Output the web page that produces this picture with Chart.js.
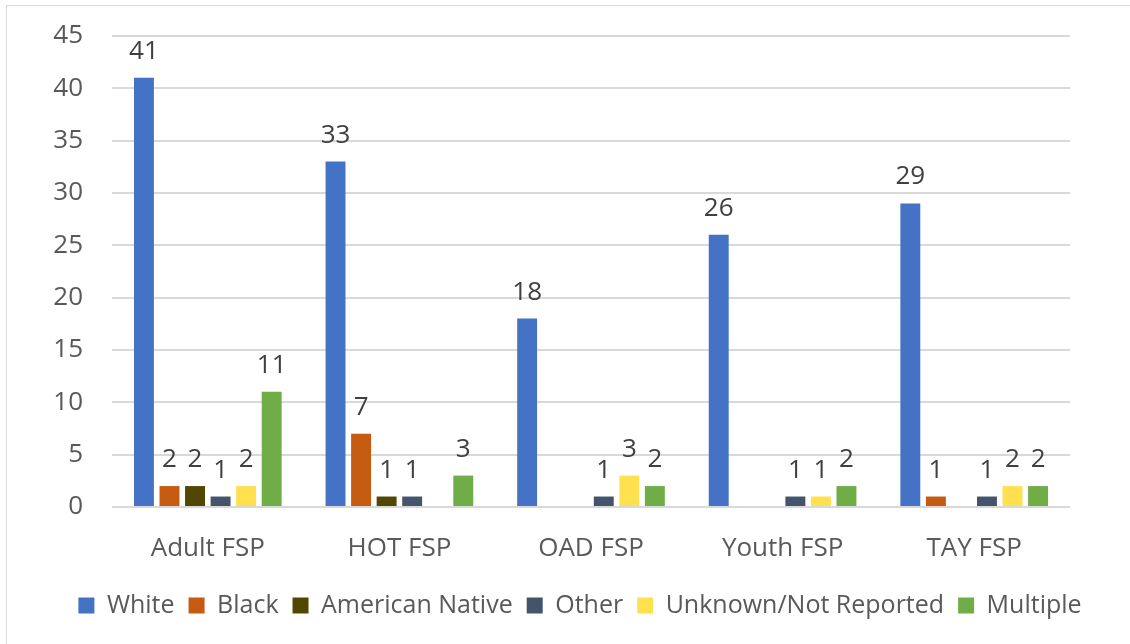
<!DOCTYPE html>
<html>
<head>
<meta charset="utf-8">
<script src="https://cdn.jsdelivr.net/npm/chart.js@4"></script>
<style>
  html, body { margin: 0; padding: 0; background: #ffffff; }
  #wrap { position: relative; width: 1130px; height: 644px; overflow: hidden; }
  #frame { position: absolute; left: 6px; top: 5px; width: 1200px; height: 700px;
           border-top: 1px solid #d9d9d9; border-left: 1px solid #d9d9d9; pointer-events: none; }
  canvas { position: absolute; left: 0; top: 0; }
</style>
</head>
<body>
<div id="wrap">
  <canvas id="chart" width="1130" height="644"></canvas>
  <div id="frame"></div>
</div>
<script>
// Program categories and counts by race
const categories = ['Adult FSP', 'HOT FSP', 'OAD FSP', 'Youth FSP', 'TAY FSP'];
const white          = [41, 33, 18, 26, 29];
const black          = [2, 7, 0, 0, 1];
const americanNative = [2, 1, 0, 0, 0];
const other          = [1, 1, 1, 1, 1];
const unknown        = [2, 0, 3, 1, 2];
const multiple       = [11, 3, 2, 2, 2];
const yTicks = [0, 5, 10, 15, 20, 25, 30, 35, 40, 45];

const FONT = "'Open Sans', 'Noto Sans', sans-serif";

// Draws each non-zero value above its bar
const valueLabels = {
  id: 'valueLabels',
  afterDatasetsDraw(chart) {
    const ctx = chart.ctx;
    ctx.save();
    ctx.font = '26px ' + FONT;
    ctx.fillStyle = '#404040';
    ctx.textAlign = 'center';
    ctx.textBaseline = 'alphabetic';
    chart.data.datasets.forEach((ds, i) => {
      const meta = chart.getDatasetMeta(i);
      if (meta.hidden) return;
      meta.data.forEach((bar, j) => {
        const v = ds.data[j];
        if (!v) return;
        ctx.fillText(String(v), bar.x, bar.y - 19);
      });
    });
    ctx.restore();
  }
};

// Centres the legend row under the whole frame rather than the padded area
const legendShift = {
  id: 'legendShift',
  afterLayout(chart) {
    const lg = chart.legend;
    if (!lg) return;
    lg.left += 45;
    lg.right += 45;
  }
};

const series = [
  ['White', white, '#4472C4'],
  ['Black', black, '#C55A11'],
  ['American Native', americanNative, '#524700'],
  ['Other', other, '#44546A'],
  ['Unknown/Not Reported', unknown, '#FFE150'],
  ['Multiple', multiple, '#70AD47']
];

new Chart(document.getElementById('chart'), {
  type: 'bar',
  data: {
    labels: categories,
    datasets: series.map(([label, data, color]) => ({
      label, data,
      backgroundColor: color,
      borderWidth: 0,
      categoryPercentage: 0.8,
      barPercentage: 0.78
    }))
  },
  plugins: [valueLabels, legendShift],
  options: {
    responsive: false,
    animation: false,
    layout: { padding: { top: 36, right: 60, left: 0, bottom: 16 } },
    plugins: {
      tooltip: { enabled: false },
      legend: {
        position: 'bottom',
        labels: {
          boxWidth: 16, boxHeight: 16, padding: 14,
          color: '#595959',
          font: { family: FONT, size: 25 }
        }
      }
    },
    scales: {
      x: {
        grid: { display: false, drawTicks: false },
        border: { display: false },
        ticks: { color: '#595959', padding: 26, font: { family: FONT, size: 26 } },
        afterFit(scale) { scale.height = 72; }
      },
      y: {
        min: 0, max: 45,
        afterBuildTicks(scale) { scale.ticks = yTicks.map(v => ({ value: v })); },
        grid: { color: '#d9d9d9', lineWidth: 2, drawTicks: false },
        border: { display: false },
        ticks: { color: '#595959', padding: 29, font: { family: FONT, size: 26 } },
        afterFit(scale) {
          scale.width = 112;
          // only the half-height of the end labels needs room above and below
          scale.paddingTop = 16;
          scale.paddingBottom = 16;
        }
      }
    }
  }
});
</script>
</body>
</html>
